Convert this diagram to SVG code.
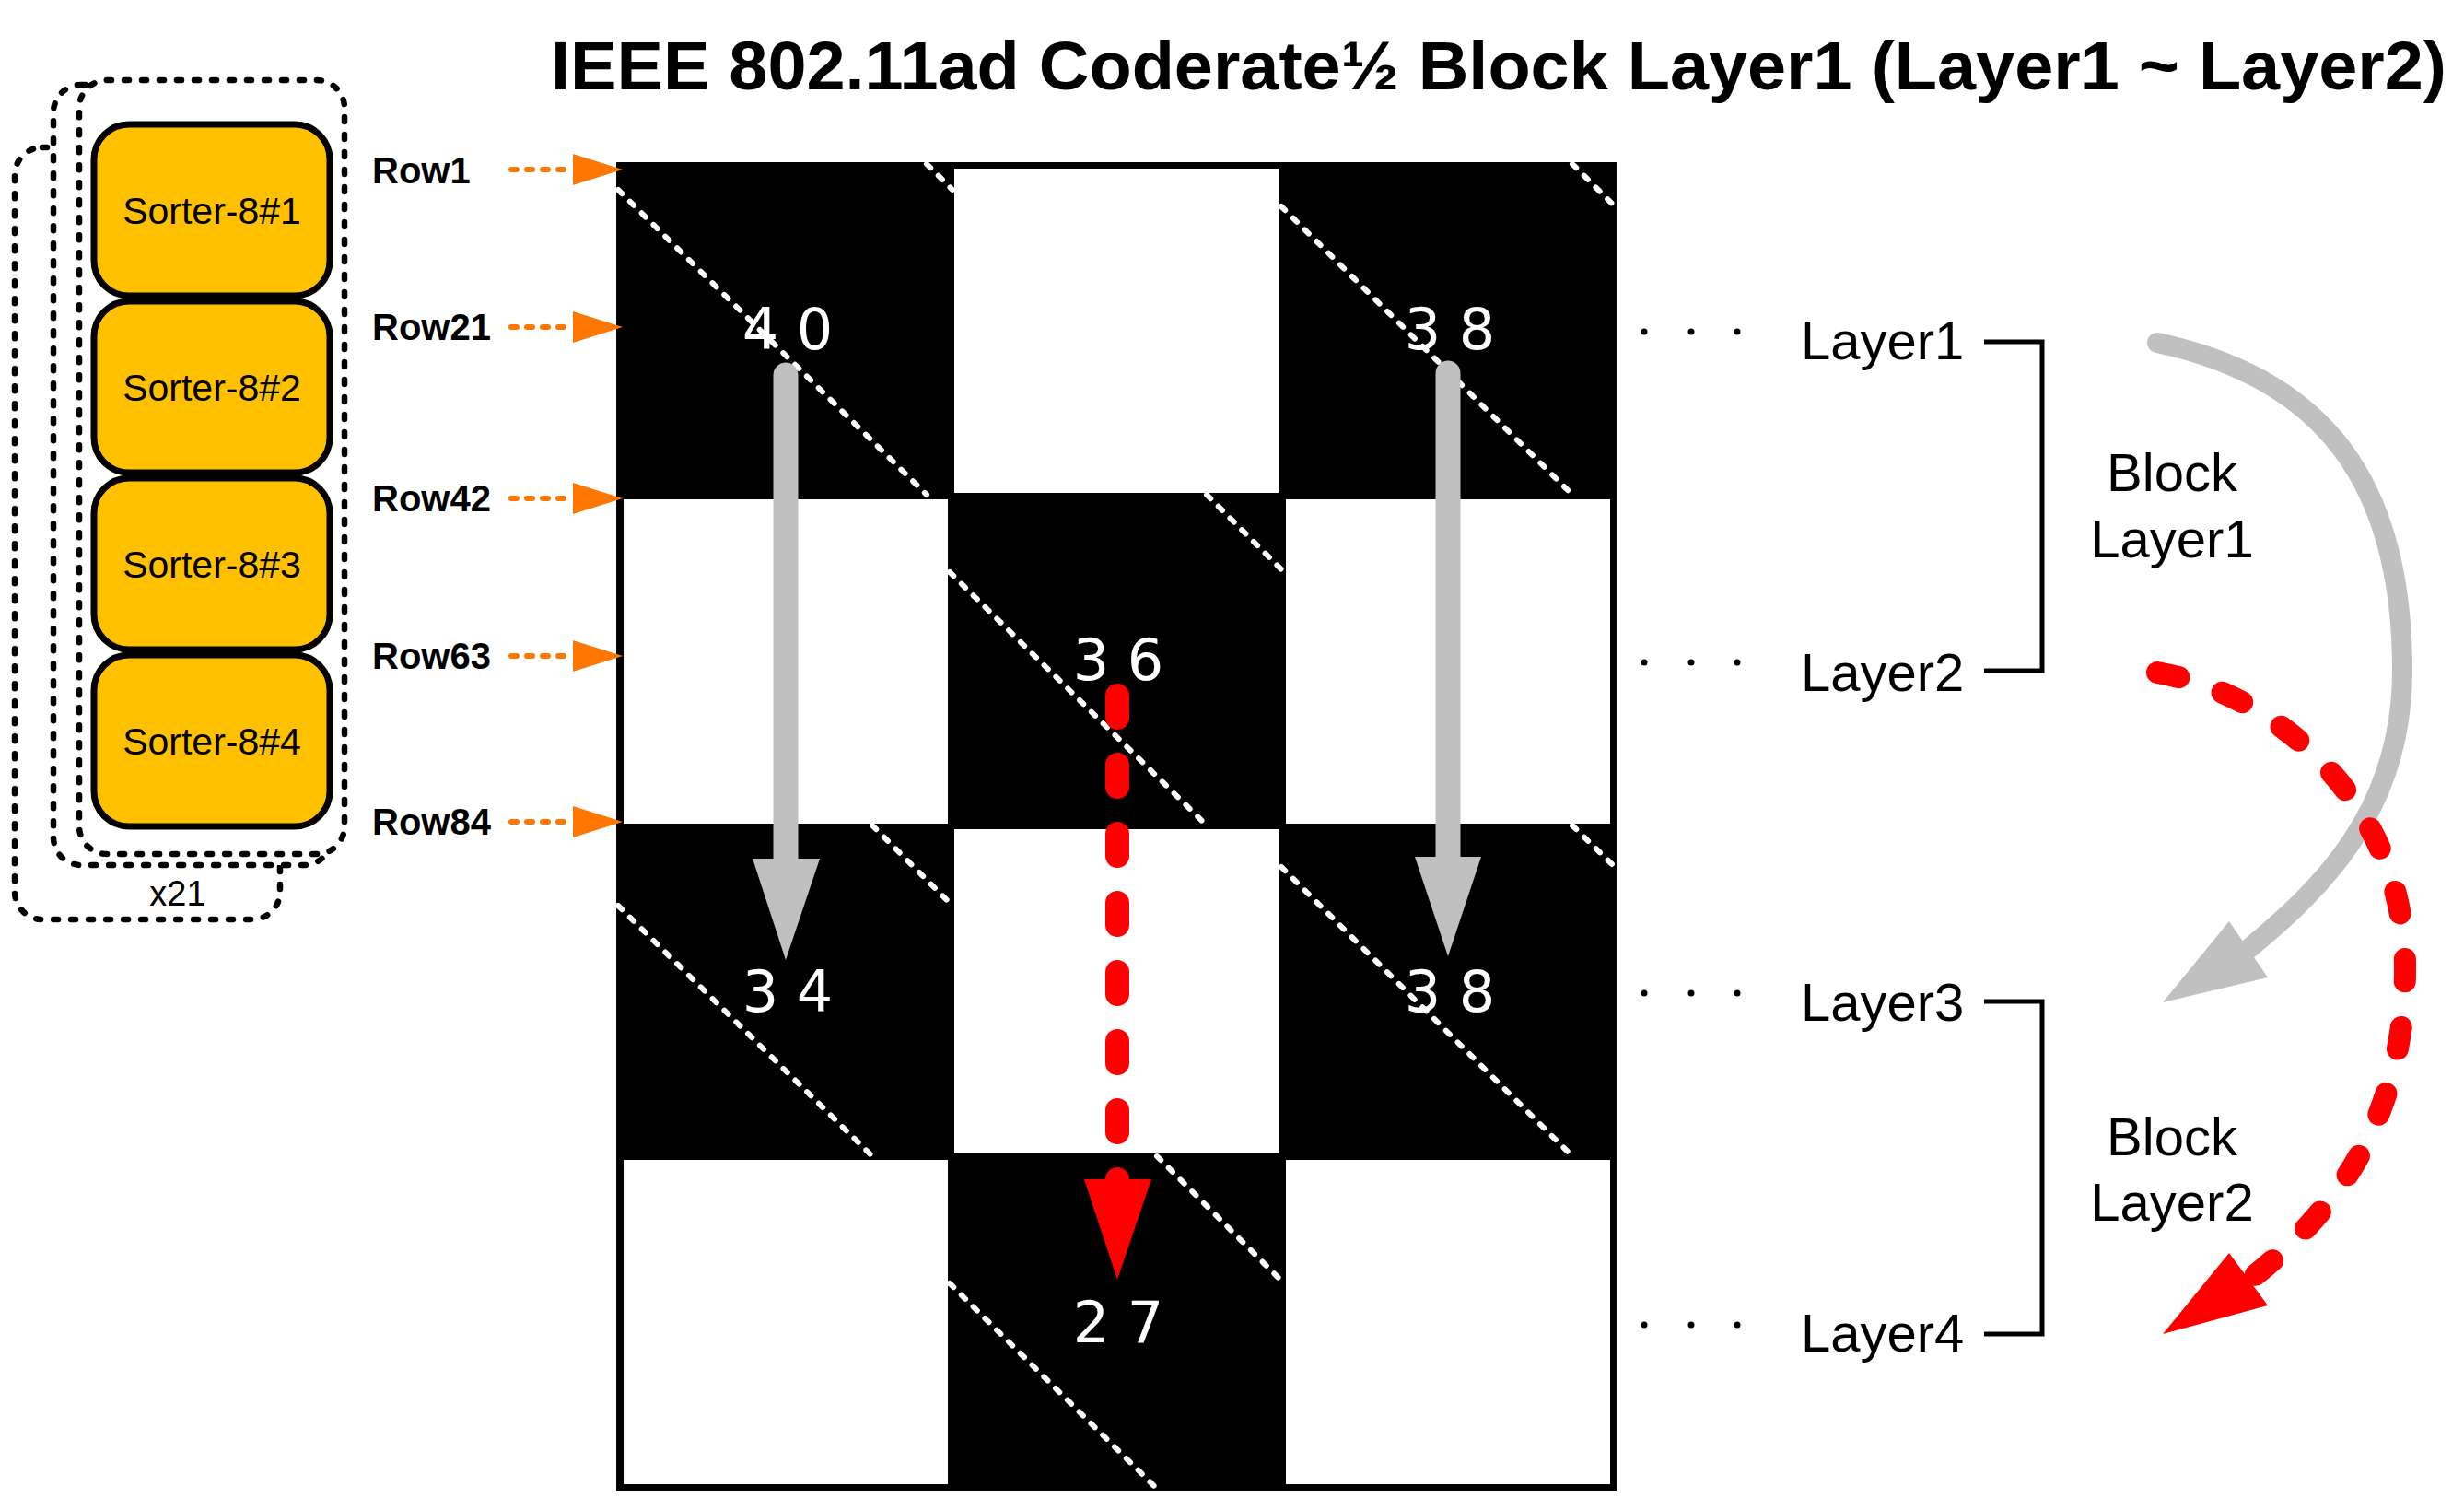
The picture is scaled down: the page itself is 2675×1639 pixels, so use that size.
<svg xmlns="http://www.w3.org/2000/svg" width="2675" height="1639" viewBox="0 0 2675 1639">
<style>
.sorter{fill:#FFC000;stroke:#000;stroke-width:7}
.dbox{fill:#fff;stroke:#000;stroke-width:6.5;stroke-dasharray:5 14;stroke-linecap:round}
.st{font-family:"Liberation Sans",Arial,sans-serif;font-size:41px;text-anchor:middle;fill:#000}
.row{font-family:"Liberation Sans",Arial,sans-serif;font-size:40px;font-weight:bold;fill:#000}
.num{font-family:"DejaVu Sans",Verdana,sans-serif;font-size:62px;fill:#fff;text-anchor:middle}
.lay{font-family:"Liberation Sans",Arial,sans-serif;font-size:58px;fill:#000}
.blk{font-family:"Liberation Sans",Arial,sans-serif;font-size:58px;fill:#000;text-anchor:middle}
.diag{stroke:#fff;stroke-width:6;stroke-dasharray:6 12;stroke-linecap:round;fill:none}
.orl{stroke:#FF7700;stroke-width:6;stroke-dasharray:6 11;stroke-linecap:round;fill:none}
.orh{fill:#FF7700}
.wc{fill:#fff}
.gray{stroke:#C0C0C0;fill:none;stroke-linecap:round}
.red{stroke:#FF0000;fill:none;stroke-linecap:round;stroke-dasharray:24 51}
.brk{stroke:#000;stroke-width:5;fill:none}
</style>

<text id="title" x="598" y="97" font-family="'Liberation Sans',Arial,sans-serif" font-size="75" font-weight="bold" textLength="2058" lengthAdjust="spacingAndGlyphs">IEEE 802.11ad Coderate½ Block Layer1 (Layer1 ~ Layer2)</text>

<g id="sorter-stack">
  <rect class="dbox" x="16" y="160" width="288" height="838" rx="30"/>
  <rect class="dbox" x="58" y="92" width="302" height="847" rx="30"/>
  <rect class="dbox" x="86" y="87" width="288" height="840" rx="30"/>
  <text x="193" y="983" font-family="'Liberation Sans',Arial,sans-serif" font-size="38" text-anchor="middle">x21</text>
</g>
<g id="sorter1"><rect class="sorter" x="102" y="135" width="256" height="186" rx="38"/><text class="st" x="230" y="243">Sorter-8#1</text></g>
<g id="sorter2"><rect class="sorter" x="102" y="327" width="256" height="186" rx="38"/><text class="st" x="230" y="435">Sorter-8#2</text></g>
<g id="sorter3"><rect class="sorter" x="102" y="519" width="256" height="186" rx="38"/><text class="st" x="230" y="627">Sorter-8#3</text></g>
<g id="sorter4"><rect class="sorter" x="102" y="711" width="256" height="186" rx="38"/><text class="st" x="230" y="819">Sorter-8#4</text></g>

<g id="row-labels">
  <text class="row" x="404" y="199">Row1</text>
  <text class="row" x="404" y="369">Row21</text>
  <text class="row" x="404" y="555">Row42</text>
  <text class="row" x="404" y="726">Row63</text>
  <text class="row" x="404" y="906">Row84</text>
</g>

<g id="matrix">
  <rect x="669" y="176" width="1086" height="1442" fill="#000"/>
  <rect class="wc" x="1036" y="183" width="352" height="352"/>
  <rect class="wc" x="677" y="542" width="352" height="352"/>
  <rect class="wc" x="1396" y="542" width="352" height="352"/>
  <rect class="wc" x="1036" y="900" width="352" height="352"/>
  <rect class="wc" x="677" y="1259" width="352" height="352"/>
  <rect class="wc" x="1396" y="1259" width="352" height="352"/>
  <g id="diagonals">
    <line class="diag" x1="671" y1="206" x2="1006" y2="537"/>
    <line class="diag" x1="1006" y1="178" x2="1034" y2="206"/>
    <line class="diag" x1="1391" y1="224" x2="1707" y2="537"/>
    <line class="diag" x1="1707" y1="178" x2="1753" y2="224"/>
    <line class="diag" x1="1031" y1="621" x2="1310" y2="896"/>
    <line class="diag" x1="1310" y1="537" x2="1394" y2="621"/>
    <line class="diag" x1="671" y1="983" x2="947" y2="1255"/>
    <line class="diag" x1="947" y1="896" x2="1034" y2="983"/>
    <line class="diag" x1="1391" y1="941" x2="1707" y2="1255"/>
    <line class="diag" x1="1707" y1="896" x2="1753" y2="941"/>
    <line class="diag" x1="1031" y1="1393" x2="1256" y2="1616"/>
    <line class="diag" x1="1256" y1="1255" x2="1394" y2="1393"/>
  </g>
  <text class="num" x="855" y="379">4 0</text>
  <text class="num" x="1574" y="379">3 8</text>
  <text class="num" x="1214" y="738">3 6</text>
  <text class="num" x="855" y="1098">3 4</text>
  <text class="num" x="1574" y="1098">3 8</text>
  <text class="num" x="1214" y="1457">2 7</text>
</g>

<g id="layers">
  <g fill="#000">
    <circle cx="1785" cy="360" r="3.5"/><circle cx="1836" cy="360" r="3.5"/><circle cx="1886" cy="360" r="3.5"/>
    <circle cx="1785" cy="719" r="3.5"/><circle cx="1836" cy="719" r="3.5"/><circle cx="1886" cy="719" r="3.5"/>
    <circle cx="1785" cy="1078" r="3.5"/><circle cx="1836" cy="1078" r="3.5"/><circle cx="1886" cy="1078" r="3.5"/>
    <circle cx="1785" cy="1438" r="3.5"/><circle cx="1836" cy="1438" r="3.5"/><circle cx="1886" cy="1438" r="3.5"/>
  </g>
  <text class="lay" x="1955" y="390">Layer1</text>
  <text class="lay" x="1955" y="750">Layer2</text>
  <text class="lay" x="1955" y="1108">Layer3</text>
  <text class="lay" x="1955" y="1467">Layer4</text>
</g>
<g id="block-layer1"><text class="blk" x="2358" y="533">Block</text><text class="blk" x="2358" y="605">Layer1</text></g>
<g id="block-layer2"><text class="blk" x="2358" y="1254">Block</text><text class="blk" x="2358" y="1325">Layer2</text></g>

<g id="connectors">
  <g id="row-arrows">
    <line class="orl" x1="555" y1="184" x2="620" y2="184"/><polygon class="orh" points="622,167 676,184 622,201"/>
    <line class="orl" x1="555" y1="355" x2="620" y2="355"/><polygon class="orh" points="622,338 676,355 622,372"/>
    <line class="orl" x1="555" y1="541" x2="620" y2="541"/><polygon class="orh" points="622,524 676,541 622,558"/>
    <line class="orl" x1="555" y1="712" x2="620" y2="712"/><polygon class="orh" points="622,695 676,712 622,729"/>
    <line class="orl" x1="555" y1="892" x2="620" y2="892"/><polygon class="orh" points="622,875 676,892 622,909"/>
  </g>
  <line class="gray" stroke-width="27" x1="853" y1="407" x2="853" y2="940"/>
  <polygon fill="#C0C0C0" points="817,932 890,932 853,1042"/>
  <line class="gray" stroke-width="27" x1="1572" y1="405" x2="1572" y2="938"/>
  <polygon fill="#C0C0C0" points="1536,930 1608,930 1572,1038"/>
  <line class="red" stroke-width="26" x1="1213" y1="755" x2="1213" y2="1290"/>
  <polygon fill="#FF0000" points="1177,1280 1250,1280 1213,1389"/>
  <polyline class="brk" points="2154,371 2217,371 2217,728 2154,728"/>
  <polyline class="brk" points="2154,1087 2217,1087 2217,1448 2154,1448"/>
  <path class="gray" stroke-width="22" d="M2342,372 C2520,410 2608,520 2608,728 C2608,880 2520,965 2441,1030"/>
  <polygon fill="#C0C0C0" points="2420,1000 2462,1061 2348,1088"/>
  <path class="red" stroke-width="24" style="stroke-dasharray:24 50" d="M2342,730 C2480,755 2611,880 2611,1050 C2611,1220 2530,1320 2441,1390"/>
  <polygon fill="#FF0000" points="2420,1360 2462,1417 2348,1448"/>
</g>
</svg>
